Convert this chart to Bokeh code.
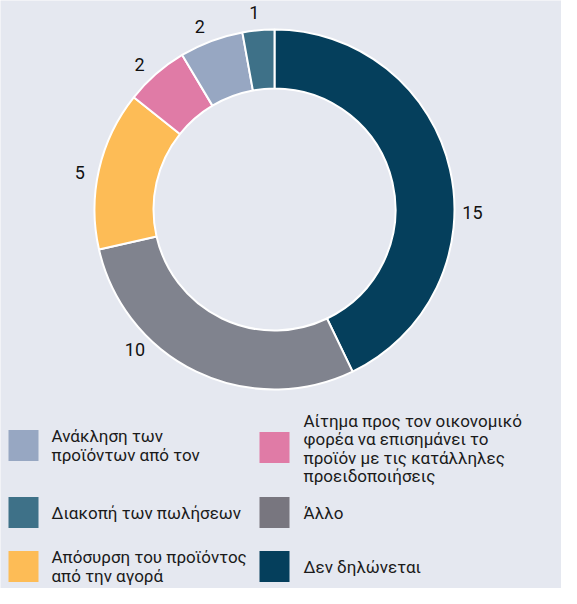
import math
from bokeh.plotting import figure
from bokeh.models import Range1d, ColumnDataSource
from bokeh.core.properties import value
from bokeh.embed import file_html
from bokeh.resources import INLINE

# ---- data ----
categories = [
    "Δεν δηλώνεται",
    "Άλλο",
    "Απόσυρση του προϊόντος από την αγορά",
    "Αίτημα προς τον οικονομικό φορέα να επισημάνει το προϊόν με τις κατάλληλες προειδοποιήσεις",
    "Ανάκληση των προϊόντων από τον",
    "Διακοπή των πωλήσεων",
]
values = [15, 10, 5, 2, 2, 1]
colors = ["#053f5c", "#80838e", "#fdbc56", "#e07ba6", "#97a7c2", "#3e7188"]
legend_labels = [
    "Δεν δηλώνεται",
    "Άλλο",
    "Απόσυρση του προϊόντος\nαπό την αγορά",
    "Αίτημα προς τον οικονομικό\nφορέα να επισημάνει το\nπροϊόν με τις κατάλληλες\nπροειδοποιήσεις",
    "Ανάκληση των\nπροϊόντων από τον",
    "Διακοπή των πωλήσεων",
]

BG = "#e5e8f0"
FONT = "Roboto"

W, H = 561, 588
p = figure(width=W, height=H, output_backend="svg", toolbar_location=None,
           x_range=Range1d(-274, W - 274), y_range=Range1d(209 - H, 209),
           min_border=0, background_fill_color=BG, border_fill_color=BG,
           outline_line_color=None)
p.axis.visible = False
p.grid.visible = False

total = sum(values)
starts, ends, mids = [], [], []
cum = 0
for v in values:
    a0 = math.pi / 2 - 2 * math.pi * cum / total
    cum += v
    a1 = math.pi / 2 - 2 * math.pi * cum / total
    starts.append(a0)
    ends.append(a1)
    mids.append((a0 + a1) / 2)

src = ColumnDataSource(dict(start=starts, end=ends, color=colors, cat=categories, val=values))
p.annular_wedge(x=0, y=0, inner_radius=121, outer_radius=180,
                start_angle="start", end_angle="end", direction="clock",
                fill_color="color", line_color="white", line_width=2, source=src)

# value labels around the ring (small angular nudges to follow the reference layout)
nudge_deg = [-13.8, -19.1, 2.2, 1.8, 1.6, 0.7]
r_lab = 198
lx = [r_lab * math.cos(m + math.radians(n)) for m, n in zip(mids, nudge_deg)]
ly = [r_lab * math.sin(m + math.radians(n)) for m, n in zip(mids, nudge_deg)]
p.text(x=lx, y=ly, text=[str(v) for v in values], text_align="center",
       text_baseline="middle", text_font=value(FONT), text_font_size="18px",
       text_color="#111111")

# legend (two columns, three rows)
col_sq = [-251, 0]
col_tx = [-223, 29]
row_y = [-236, -303, -357]
order = [(4, 0, 0), (5, 0, 1), (2, 0, 2), (3, 1, 0), (1, 1, 1), (0, 1, 2)]
sx, sy, sc, tx, ty, tt = [], [], [], [], [], []
for idx, c, r in order:
    yy = row_y[r] + (-2 if idx == 3 else 0)
    sx.append(col_sq[c]); sy.append(yy); sc.append(colors[idx] if idx != 1 else "#78767f")
    tx.append(col_tx[c]); ty.append(row_y[r] - (3 if idx == 3 else 0)); tt.append(legend_labels[idx])
p.rect(x=sx, y=sy, width=30, height=31, fill_color=sc, line_color=None)
p.text(x=tx, y=ty, text=tt, text_align="left", text_baseline="middle",
       text_font=value(FONT), text_font_size="17px", text_color="#1a1a1a",
       text_line_height=0.92)

html = file_html(p, INLINE)
html = html.replace("<body>", '<body style="background-color:%s;">' % BG, 1)
open("out.html", "w").write(html)
